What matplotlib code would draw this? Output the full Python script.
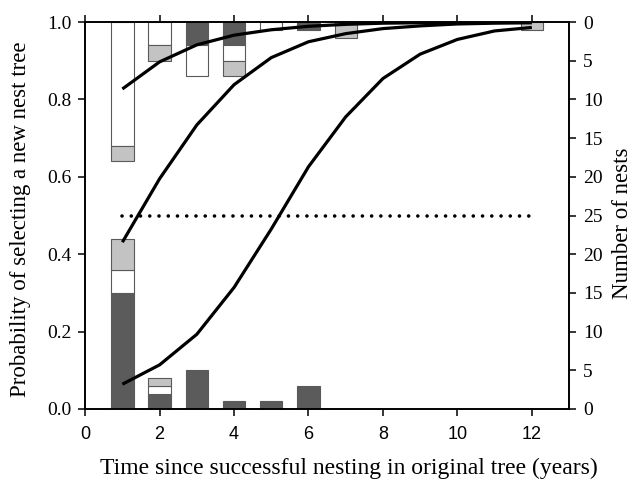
import matplotlib
matplotlib.use("Agg")
import matplotlib.pyplot as plt
import numpy as np

# ---- data ----
bar_years = [1, 2, 3, 4, 5, 6, 7, 12]
# bars hanging from the top (counts of nests), stacked downward: dark, white, gray
top_dark = [0, 0, 3, 3, 0, 1, 0, 0]
top_white = [16, 3, 4, 2, 1, 0, 0, 0]
top_gray = [2, 2, 0, 2, 0, 0, 2, 1]
# bars rising from the bottom (counts of nests), stacked upward: dark, white, gray
bot_dark = [15, 2, 5, 1, 1, 3, 0, 0]
bot_white = [3, 1, 0, 0, 0, 0, 0, 0]
bot_gray = [4, 1, 0, 0, 0, 0, 0, 0]

curve_years = [1, 2, 3, 4, 5, 6, 7, 8, 9, 10, 11, 12]
curve_top = [0.827, 0.897, 0.941, 0.966, 0.980, 0.989, 0.994, 0.997, 0.998, 0.999, 0.999, 1.0]
curve_mid = [0.431, 0.595, 0.734, 0.838, 0.908, 0.949, 0.970, 0.983, 0.990, 0.995, 0.997, 0.998]
curve_low = [0.064, 0.114, 0.193, 0.314, 0.465, 0.626, 0.755, 0.854, 0.917, 0.955, 0.977, 0.986]

ref_x = [1, 12]
ref_y = [0.5, 0.5]

xticks = [0, 2, 4, 6, 8, 10, 12]
yticks = [0.0, 0.2, 0.4, 0.6, 0.8, 1.0]
nest_ticks = [0, 5, 10, 15, 20, 25, 20, 15, 10, 5, 0]

serif = "Liberation Serif"
sans = "Liberation Sans"

DARK = "#5b5b5b"
GRAY = "#c3c3c3"
WHITE = "#ffffff"
EDGE = "#5a5a5a"

fig = plt.figure(figsize=(6.33, 4.84), dpi=100)
ax = fig.add_axes([0.1345, 0.155, 0.7645, 0.7995])
ax2 = ax.twinx()

ax2.set_ylim(0, 50)  # nest axis: 25 nests = 0.5 probability
ax.set_ylim(0, 1)
ax.set_xlim(0, 13)

bw = 0.6
yrs = np.array(bar_years)
kw = dict(width=bw, edgecolor=EDGE, linewidth=0.8, zorder=2)

def stack_down(vals, prev, col):
    vals = np.array(vals); prev = np.array(prev)
    m = vals > 0
    ax2.bar(yrs[m], -vals[m], bottom=50 - prev[m], color=col, **kw)

def stack_up(vals, prev, col):
    vals = np.array(vals); prev = np.array(prev)
    m = vals > 0
    ax2.bar(yrs[m], vals[m], bottom=prev[m], color=col, **kw)

zero = np.zeros(len(yrs))
td = np.array(top_dark); tw = np.array(top_white); tg = np.array(top_gray)
stack_down(td, zero, DARK)
stack_down(tw, td, WHITE)
stack_down(tg, td + tw, GRAY)

bd = np.array(bot_dark); bwh = np.array(bot_white); bg = np.array(bot_gray)
stack_up(bd, zero, DARK)
stack_up(bwh, bd, WHITE)
stack_up(bg, bd + bwh, GRAY)

# curves drawn on top
ax.set_zorder(ax2.get_zorder() + 1)
ax.patch.set_visible(False)
for c in (curve_top, curve_mid, curve_low):
    ax.plot(curve_years, c, color="black", linewidth=2.3, solid_capstyle="butt", zorder=5)
ax.plot(ref_x, ref_y, color="black", linewidth=2.6, linestyle=(0, (0.01, 2.55)),
        dash_capstyle="round", zorder=5)

# ticks and labels
ax.set_xticks(xticks)
ax.set_xticklabels([str(t) for t in xticks], fontfamily=sans, fontsize=13)
ax.set_yticks(yticks)
ax.set_yticklabels([f"{t:.1f}" for t in yticks], fontfamily=serif, fontsize=14)
ax.tick_params(axis="x", direction="out", length=5, width=1.1, top=True, pad=7)
ax.tick_params(axis="y", direction="out", length=5, width=1.1, pad=5)

ax2.set_yticks(np.arange(0, 51, 5))
ax2.set_yticklabels([str(t) for t in nest_ticks], fontfamily=serif, fontsize=14)
ax2.tick_params(axis="y", direction="out", length=5, width=1.1, pad=5)

for a in (ax, ax2):
    for s in a.spines.values():
        s.set_linewidth(1.2)

ax.set_xlabel("Time since successful nesting in original tree (years)",
              fontfamily=serif, fontsize=17)
ax.xaxis.set_label_coords(0.545, -0.125)
ax.set_ylabel("Probability of selecting a new nest tree", fontfamily=serif, fontsize=16.5)
ax.yaxis.set_label_coords(-0.112, 0.49)
ax2.set_ylabel("Number of nests", fontfamily=serif, fontsize=16.5)
ax2.yaxis.set_label_coords(1.089, 0.48)

fig.savefig("out.png", dpi=100)
